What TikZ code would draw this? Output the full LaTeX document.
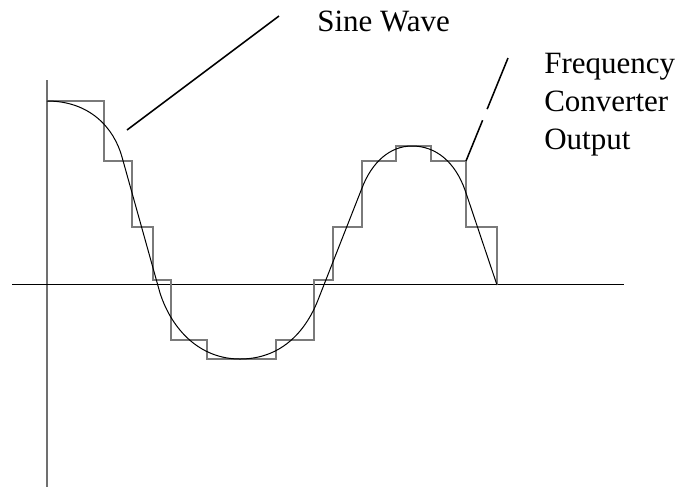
\documentclass[tikz,border=0pt]{standalone}
\usepackage{fontspec}
\setmainfont{Liberation Serif}
\usepackage{tikz}
\usetikzlibrary{positioning, calc}
\definecolor{stairGray}{HTML}{7A7A7A}
\definecolor{axisGray}{HTML}{707070}

\begin{document}
\begin{tikzpicture}[x=0.75pt, y=-0.75pt,
    axisline/.style={line width=0.8pt},
    stairline/.style={stairGray, line width=0.8pt},
    waveline/.style={black, line width=0.75pt},
    leader/.style={black, line width=1.15pt},
    lbl/.style={inner sep=0pt, font=\fontsize{23.25}{28.5}\selectfont}]
    \useasboundingbox (0,0) rectangle (681,487);
    % axes
    \draw[axisline, axisGray] (47,80) -- (47,487);
    \draw[axisline] (12,284.5) -- (624,284.5);
    % converter output (staircase)
    \draw[stairline] (47,101)
      \foreach \x/\y in {104/161,132/227,153/280,171/340,207/359,276/340,
                         314/280,333/227,362/161,396/146,431/161,466/227,497/285} {
        -| (\x,\y)
      };
    % sine wave
    \draw[waveline] (47,101) .. controls (90,101) and (114,128) .. (122,157)
      -- (160,293) .. controls (172,330) and (200,359) .. (240,359)
      .. controls (280,359) and (305,333) .. (318,300)
      -- (362,188) .. controls (372,162) and (390,146) .. (412,146)
      .. controls (436,146) and (455,162) .. (465,190)
      -- (497,285);
    % labels
    \node[lbl, anchor=base west] (sinelbl) at (317,31.7) {Sine Wave};
    \node[lbl, anchor=base west, align=left] (fcolbl) at (544,149.3)
      {Frequency\\Converter\\Output};
    \coordinate (sinetip) at (127,130);
    \coordinate (sineend) at (279,16);
    \coordinate (fcotip) at (466,161);
    \coordinate (fcoend) at (508,58);
    \draw[leader] (sinetip) -- (sineend);
    \draw[leader, dash pattern=on 33pt off 9pt on 45pt] (fcotip) -- (fcoend);
  \end{tikzpicture}
\end{document}
